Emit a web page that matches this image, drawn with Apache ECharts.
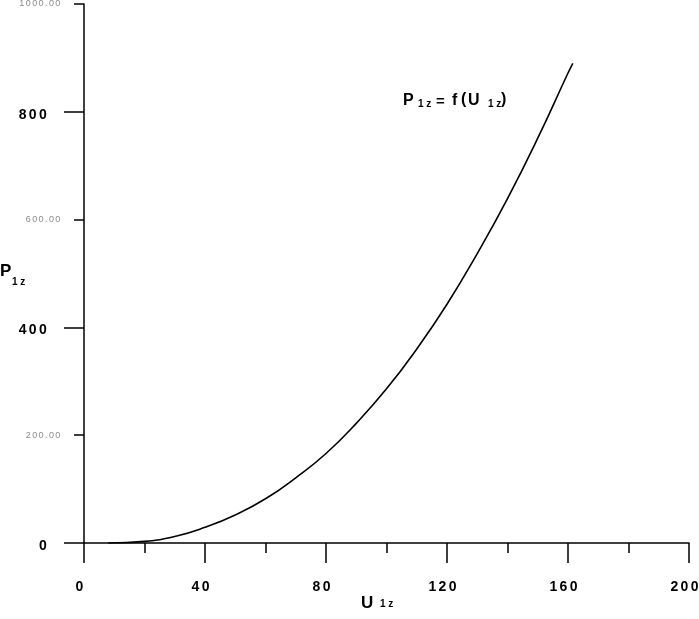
<!DOCTYPE html>
<html>
<head>
<meta charset="utf-8">
<script src="https://cdn.jsdelivr.net/npm/echarts@6/dist/echarts.min.js"></script>
<style>
  html, body { margin: 0; padding: 0; background: #fff; }
  #chart { width: 699px; height: 619px; }
</style>
</head>
<body>
<div id="chart"></div>
<script>
// curve
const uValues = [8, 20, 30, 40, 50, 60, 70, 80, 90, 100, 110, 120, 130, 140, 150, 160, 161.6];
const pValues = [0, 3, 12, 29, 52, 82, 121, 166, 222, 286, 360, 443, 537, 639, 751, 872, 890];
// axis ticks
const xTicks = [0, 40, 80, 120, 160, 200];
const yMajorTicks = [0, 400, 800];
const yMinorTicks = [200, 600, 1000];

const font = "'Liberation Sans', Arial, sans-serif";
const black = { color: '#000', width: 1.5 };
// every character in its own rich fragment so the glyphs sit apart like the original
const spaced = s => String(s).split('').map(c => '{d|' + c + '}').join('');
const bigRich = { d: { fontFamily: font, fontSize: 14, fontWeight: 'bold', color: '#000', padding: [0, 1.2, 0, 1.2] } };
const smallRich = { d: { fontFamily: font, fontSize: 9, color: '#8a8a8a', padding: [0, 0.7, 0, 0.7] } };

function label(text, x, y, size) {
  return {
    type: 'text', x: x, y: y,
    style: { text: text, fill: '#000', font: 'bold ' + size + 'px ' + font, textVerticalAlign: 'top' }
  };
}

const chart = echarts.init(document.getElementById('chart'));
chart.setOption({
  animation: false,
  backgroundColor: '#fff',
  grid: { left: 84, right: 10, top: 4, bottom: 76, outerBoundsMode: 'none' },
  xAxis: {
    type: 'value', min: 0, max: 200, interval: 40,
    axisLine: { lineStyle: black },
    axisTick: { length: 20, lineStyle: black, customValues: xTicks },
    minorTick: { show: true, splitNumber: 2, length: 10, lineStyle: black },
    axisLabel: { customValues: xTicks, formatter: spaced, rich: bigRich, margin: 37, padding: [0, 9, 0, 0] },
    splitLine: { show: false }
  },
  yAxis: [
    {
      type: 'value', min: 0, max: 1000, interval: 200, position: 'left',
      axisLine: { show: true, lineStyle: black },
      axisTick: { show: true, length: 20, lineStyle: black, customValues: yMajorTicks },
      axisLabel: { customValues: yMajorTicks, formatter: spaced, rich: bigRich, margin: 36, padding: [6, 0, 0, 0] },
      splitLine: { show: false }
    },
    {
      type: 'value', min: 0, max: 1000, interval: 200, position: 'left', offset: 0,
      axisLine: { show: false },
      axisTick: { show: true, length: 10, lineStyle: black, customValues: yMinorTicks },
      axisLabel: { customValues: yMinorTicks, formatter: v => spaced(v.toFixed(2)), rich: smallRich, margin: 23 },
      splitLine: { show: false }
    }
  ],
  series: [{
    type: 'line',
    data: uValues.map((u, i) => [u, pValues[i]]),
    smooth: true,
    showSymbol: false,
    lineStyle: { color: '#000', width: 1.6 }
  }],
  graphic: [
    // y-axis name
    label('P', 0, 263, 17),
    label('1 z', 12, 277, 10),
    // x-axis name
    label('U', 361, 595, 17),
    label('1 z', 380, 599, 10),
    // formula
    label('P', 403, 93, 16),
    label('1 z', 418, 99, 10),
    label('=', 436, 94, 15),
    label('f', 452, 93, 16),
    label('(', 461, 92, 16),
    label('U', 468, 93, 16),
    label('1 z', 488, 99, 10),
    label(')', 501, 92, 16)
  ]
});
</script>
</body>
</html>
